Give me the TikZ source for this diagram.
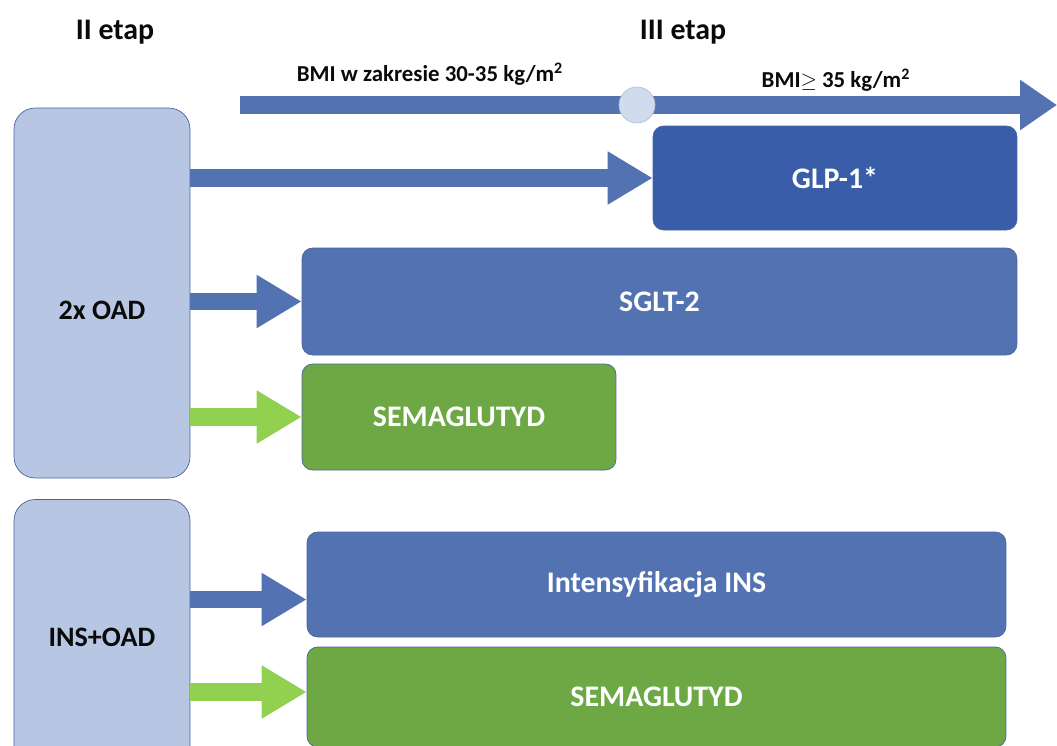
\documentclass[tikz,border=0pt]{standalone}
\usepackage{fontspec}
\setmainfont{Carlito}
\usepackage{tikz}
\usetikzlibrary{arrows.meta,positioning,calc}
\definecolor{stBlue}  {RGB}{ 82,114,178}
\definecolor{stBlueD} {RGB}{ 57, 93,168}
\definecolor{stBlueL} {RGB}{183,198,226}
\definecolor{stEdge}  {RGB}{ 74,100,158}
\definecolor{stGreen} {RGB}{109,168, 69}
\definecolor{stGreenL}{RGB}{146,208, 80}
\definecolor{stDot}   {RGB}{208,220,238}
\definecolor{stInk}   {RGB}{ 10, 10, 10}

\begin{document}
\begin{tikzpicture}[
  x=0.02cm,y=-0.02cm,
  stage/.style={font=\fontsize{17}{20}\selectfont\bfseries,text=stInk},
  bmi/.style={font=\fontsize{13}{15}\selectfont\bfseries,text=stInk},
  start/.style={rectangle,rounded corners=12pt,draw=stEdge,fill=stBlueL,
                font=\fontsize{16}{19}\selectfont\bfseries,text=stInk,
                minimum width=3.52cm},
  drug/.style={rectangle,rounded corners=6pt,draw=stEdge,fill=stBlue,
               font=\fontsize{17}{20}\selectfont\bfseries,text=white},
  drugD/.style={drug,fill=stBlueD},
  drugG/.style={drug,fill=stGreen},
  flow/.style={draw=stBlue,line width=10.2pt,
               -{Triangle[length=0.9cm,width=1.0cm]}},
  flowG/.style={flow,draw=stGreenL},
  dot/.style={circle,draw=stDot!70!gray,fill=stDot,minimum size=0.72cm,inner sep=0pt}
]
\useasboundingbox (0,0) rectangle (1057,745);

% --- stage headings and BMI line
\node[stage] (etapII)  at (115,32) {II etap};
\node[stage] (etapIII) at (683,32) {III etap};
\coordinate (bmiStart) at (240,105);
\coordinate (bmiEnd)   at (1057,105);
\draw[draw=stBlue,line width=10.2pt,-{Triangle[length=0.74cm,width=0.96cm]}]
   (bmiStart) -- (bmiEnd);
\node[dot] (bmiCut) at (637,105) {};
\node[bmi] (bmiLow)  at (430,74) {BMI w zakresie 30-35 kg/m\textsuperscript{2}};
\node[bmi] (bmiHigh) at (836,80) {BMI$\geq$ 35 kg/m\textsuperscript{2}};

% --- starting therapy boxes
\node[start,minimum height=7.4cm,text height=1.04cm,text depth=0pt] (oad) at (102,293) {2x OAD};
\node[start,minimum height=5.5cm] (insoad) at (102,637) {INS+OAD};

% --- drug boxes
\node[drugD,minimum width=7.28cm,minimum height=2.08cm] (glp)    at (835,178)   {GLP-1*};
\node[drug, minimum width=14.3cm,minimum height=2.14cm] (sglt)   at (659.5,301.5) {SGLT-2};
\node[drugG,minimum width=6.28cm,minimum height=2.12cm] (semaA)  at (459,417)   {SEMAGLUTYD};
\node[drug, minimum width=13.98cm,minimum height=2.1cm] (intens) at (656.5,584.5) {Intensyfikacja INS};
\node[drugG,minimum width=13.98cm,minimum height=2.0cm] (semaB)  at (656.5,697) {SEMAGLUTYD};

% --- arrows
\draw[flow]  (glp.west -| oad.east)   -- (glp.west);
\draw[flow]  (sglt.west -| oad.east)  -- (sglt.west);
\draw[flowG] (semaA.west -| oad.east) -- (semaA.west);
\draw[flow]  ([yshift=-0.3cm] intens.west -| insoad.east) -- ([yshift=-0.3cm] intens.west);
\draw[flowG] ([yshift=0.1cm] semaB.west -| insoad.east) -- ([yshift=0.1cm] semaB.west);
\end{tikzpicture}
\end{document}
